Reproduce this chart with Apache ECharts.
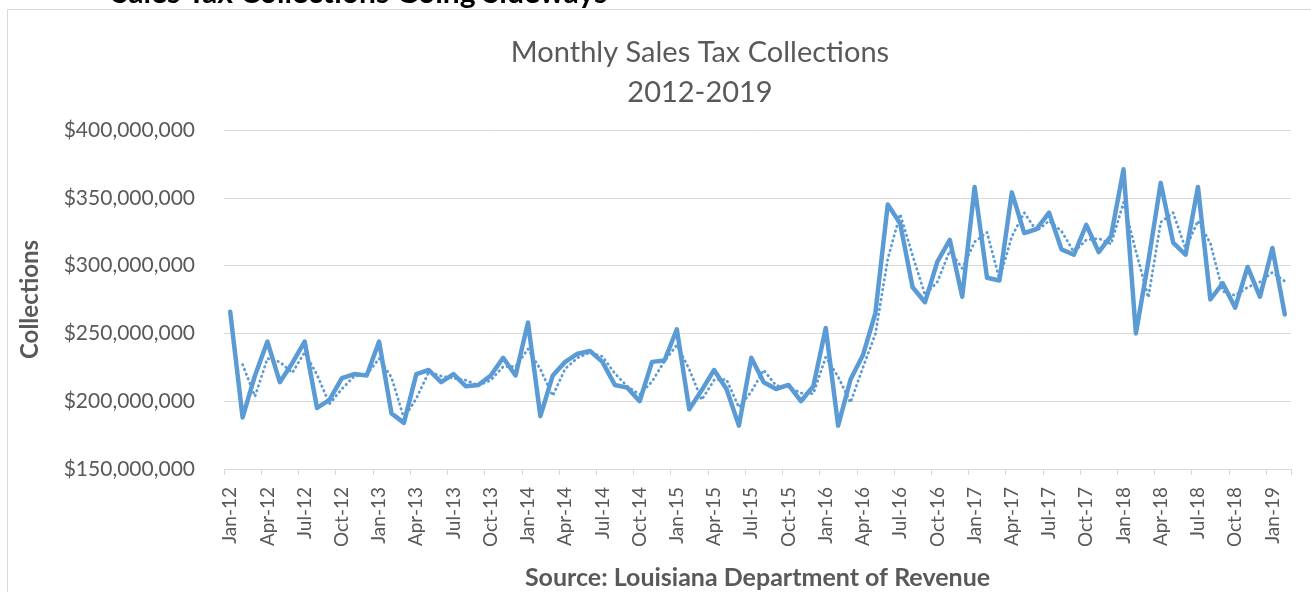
<!DOCTYPE html>
<html>
<head>
<meta charset="utf-8">
<script src="https://cdn.jsdelivr.net/npm/echarts@6/dist/echarts.min.js"></script>
<style>
  html, body { margin: 0; padding: 0; background: #ffffff; }
  #chart { width: 1311px; height: 592px; }
</style>
</head>
<body>
<div id="chart"></div>
<script>
// Month / year parts used to build the category (tick) labels: Jan-12 .. Feb-19
const monthNames = ['Jan','Feb','Mar','Apr','May','Jun','Jul','Aug','Sep','Oct','Nov','Dec'];
const yearLabels = ['12','13','14','15','16','17','18','19'];
const lastYearMonths = 2; // data runs through Feb-19

// Monthly sales tax collections, millions of dollars
const collections = [
  266, 188, 219, 244, 214, 228, 244, 195, 201, 217, 220, 219,   // 2012
  244, 191, 184, 220, 223, 214, 220, 211, 212, 219, 232, 219,   // 2013
  258, 189, 219, 229, 235, 237, 229, 212, 210, 200, 229, 230,   // 2014
  253, 194, 208, 223, 209, 182, 232, 214, 209, 212, 200, 211,   // 2015
  254, 182, 216, 234, 265, 345, 331, 284, 273, 303, 319, 277,   // 2016
  358, 291, 289, 354, 324, 327, 339, 312, 308, 330, 310, 322,   // 2017
  371, 250, 303, 361, 317, 308, 358, 275, 287, 269, 299, 277,   // 2018
  313, 264                                                      // 2019
];

// 2-period moving average trendline (dotted), millions of dollars
const movingAverage = [
  null, 227, 203.5, 231.5, 229, 221, 236, 219.5, 198, 209, 218.5, 219.5,
  231.5, 217.5, 187.5, 202, 221.5, 218.5, 217, 215.5, 211.5, 215.5, 225.5, 225.5,
  238.5, 223.5, 204, 224, 232, 236, 233, 220.5, 211, 205, 214.5, 229.5,
  241.5, 223.5, 201, 215.5, 216, 195.5, 207, 223, 211.5, 210.5, 206, 205.5,
  232.5, 218, 199, 225, 249.5, 305, 338, 307.5, 278.5, 288, 311, 298,
  317.5, 324.5, 290, 321.5, 339, 325.5, 333, 325.5, 310, 319, 320, 316,
  346.5, 310.5, 276.5, 332, 339, 312.5, 333, 316.5, 281, 278, 284, 288,
  295, 288.5
];

// y-axis range (millions)
const yMin = 150, yMax = 400, yStep = 50;

const categories = [];
yearLabels.forEach((y, yi) => {
  const n = (yi === yearLabels.length - 1) ? lastYearMonths : 12;
  for (let m = 0; m < n; m++) categories.push(monthNames[m] + '-' + y);
});

const FONT = 'Lato, "Open Sans", "Liberation Sans", sans-serif';
const GREY = '#595959';
const BLUE = '#5B9BD5';

const chart = echarts.init(document.getElementById('chart'), null, { renderer: 'canvas' });

chart.setOption({
  animation: false,
  backgroundColor: '#ffffff',
  textStyle: { fontFamily: FONT },
  graphic: [
    {
      type: 'rect', silent: true, z: -10,
      shape: { x: 7.5, y: 9.5, width: 1320, height: 600 },
      style: { fill: 'none', stroke: '#d9d9d9', lineWidth: 1 }
    },
    {
      type: 'text', silent: true,
      x: 112, y: 8,
      style: {
        text: 'Sales Tax Collections Going Sideways',
        font: 'bold 30px ' + FONT, fill: '#000000',
        align: 'left', verticalAlign: 'bottom'
      }
    },
    {
      type: 'text', silent: true,
      x: 700, y: 53,
      style: {
        text: 'Monthly Sales Tax Collections',
        font: '29px ' + FONT, fill: GREY,
        align: 'center', verticalAlign: 'middle'
      }
    },
    {
      type: 'text', silent: true,
      x: 700, y: 93,
      style: {
        text: '2012-2019',
        font: '29px ' + FONT, fill: GREY,
        align: 'center', verticalAlign: 'middle'
      }
    }
  ],
  grid: { left: 224, right: 20, top: 130, bottom: 123, containLabel: false, outerBoundsMode: 'none' },
  xAxis: {
    type: 'category',
    data: categories,
    boundaryGap: true,
    name: 'Source: Louisiana Department of Revenue',
    nameLocation: 'middle',
    nameGap: 96,
    nameTextStyle: { fontFamily: FONT, fontSize: 25, fontWeight: 'bold', color: GREY },
    axisLine: { show: true, lineStyle: { color: '#d9d9d9', width: 1 } },
    axisTick: { show: true, interval: 2, length: 6, lineStyle: { color: '#d9d9d9', width: 1 } },
    axisLabel: { interval: 2, rotate: 90, margin: 18, fontFamily: FONT, fontSize: 19, color: GREY },
    splitLine: { show: false }
  },
  yAxis: {
    type: 'value',
    min: yMin, max: yMax, interval: yStep,
    name: 'Collections',
    nameLocation: 'middle',
    nameRotate: 90,
    nameGap: 182,
    nameTextStyle: { fontFamily: FONT, fontSize: 24, fontWeight: 'bold', color: GREY },
    axisLine: { show: false },
    axisTick: { show: false },
    axisLabel: {
      margin: 29, fontFamily: FONT, fontSize: 21, color: GREY,
      formatter: v => '$' + (v * 1e6).toLocaleString('en-US')
    },
    splitLine: { show: true, lineStyle: { color: '#d9d9d9', width: 1 } }
  },
  series: [
    {
      name: 'Collections',
      type: 'line',
      data: collections,
      showSymbol: false,
      symbol: 'none',
      smooth: false,
      lineStyle: { color: BLUE, width: 4.5, cap: 'round', join: 'round' },
      z: 3
    },
    {
      name: '2 per. Mov. Avg.',
      type: 'line',
      data: movingAverage,
      showSymbol: false,
      symbol: 'none',
      smooth: false,
      connectNulls: false,
      lineStyle: { color: BLUE, width: 2.8, type: [0.5, 4.5], cap: 'round', join: 'round' },
      z: 2
    }
  ]
});
</script>
</body>
</html>
